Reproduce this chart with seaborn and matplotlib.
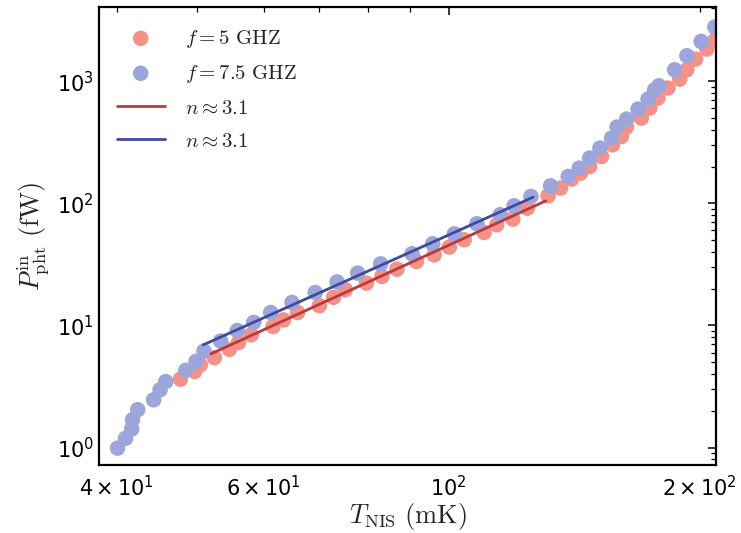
import numpy as np
import pandas as pd
import matplotlib
matplotlib.use("Agg")
import matplotlib.pyplot as plt
import seaborn as sns

# ---- data ----
T_5ghz = [47.7, 49.6, 50.4, 52.4, 54.6, 56.0, 58.0, 61.6, 63.4, 65.9, 70.0, 72.8,
          75.2, 79.7, 83.2, 86.7, 91.5, 96.1, 100.2, 104.4, 110.3, 114.2, 119.4,
          124.3, 131.6, 136.2, 140.4, 143.9, 147.6, 152.5, 157.2, 161.1, 163.4,
          170.2, 174.2, 178.2, 183.2, 189.2, 193.0, 197.7, 204.0, 208.4]
P_5ghz = [3.63, 4.19, 4.76, 5.45, 6.37, 7.24, 8.38, 9.79, 11.1, 12.75, 14.5, 17.0,
          19.6, 22.2, 25.2, 28.9, 33.4, 37.8, 43.8, 50.2, 57.7, 66.7, 74.2,
          91.3, 115.2, 133.2, 157.8, 176.7, 200.2, 241.7, 301.3, 352.4, 421.0,
          499.0, 602.0, 727.0, 878.0, 1040.0, 1240.0, 1517.0, 1832.0, 2154.0]

T_75ghz = [40.1, 41.0, 41.7, 41.8, 42.4, 44.3, 45.1, 45.8, 48.4, 49.8, 50.9, 53.3,
           55.8, 58.4, 61.2, 64.9, 69.2, 73.5, 77.8, 82.9, 90.4, 95.7, 101.6,
           108.1, 115.3, 119.8, 125.5, 132.5, 139.1, 143.4, 147.6, 151.8, 156.8,
           159.2, 163.5, 168.7, 173.4, 176.6, 178.7, 186.6, 193.0, 200.8, 208.5]
P_75ghz = [0.99, 1.19, 1.42, 1.69, 2.04, 2.46, 2.97, 3.47, 4.29, 5.08, 6.17, 7.45,
           9.08, 10.6, 12.75, 15.4, 18.6, 22.7, 26.8, 31.9, 38.6, 46.6, 56.2,
           68.0, 80.5, 95.4, 113.7, 139.1, 165.8, 194.2, 234.5, 283.2, 341.9,
           420.9, 489.4, 591.0, 713.6, 850.6, 917.0, 1240.0, 1615.0, 2114.0, 2774.0]

fit_T_5ghz = [51.9, 130.8]
fit_P_5ghz = [5.85, 104.8]
fit_T_75ghz = [50.8, 126.3]
fit_P_75ghz = [6.93, 112.4]

labels = [r"$f = 5\ \mathrm{GHZ}$", r"$f = 7.5\ \mathrm{GHZ}$",
          r"$n \approx 3.1$", r"$n \approx 3.1$"]

# ---- style ----
sns.set_style("white")
plt.rcParams["font.family"] = ["DejaVu Sans"]
plt.rcParams["mathtext.fontset"] = "cm"

fig = plt.figure(figsize=(7.41, 5.33), dpi=100)
ax = fig.add_axes([0.1336, 0.1276, 0.8327, 0.8593])

c_red_pt = "#F4928A"
c_blue_pt = "#9DA6DB"
c_red_ln = "#B83A3D"
c_blue_ln = "#3F4A9B"

df5 = pd.DataFrame({"T": T_5ghz, "P": P_5ghz})
df75 = pd.DataFrame({"T": T_75ghz, "P": P_75ghz})
fit5 = pd.DataFrame({"T": fit_T_5ghz, "P": fit_P_5ghz})
fit75 = pd.DataFrame({"T": fit_T_75ghz, "P": fit_P_75ghz})

sns.scatterplot(data=df5, x="T", y="P", ax=ax, color=c_red_pt, s=125,
                edgecolor="none", linewidth=0, label=labels[0], zorder=2)
sns.scatterplot(data=df75, x="T", y="P", ax=ax, color=c_blue_pt, s=125,
                edgecolor="none", linewidth=0, label=labels[1], zorder=2.1)
sns.lineplot(data=fit5, x="T", y="P", ax=ax, color=c_red_ln, lw=2.0,
             label=labels[2], zorder=3)
sns.lineplot(data=fit75, x="T", y="P", ax=ax, color=c_blue_ln, lw=2.0,
             label=labels[3], zorder=3)

ax.set_xscale("log")
ax.set_yscale("log")
ax.set_xlim(38.1, 209.2)
ax.set_ylim(0.72, 4050)

for sp in ax.spines.values():
    sp.set_visible(True)
    sp.set_color("black")
    sp.set_linewidth(1.6)

ax.tick_params(which="both", direction="in", top=True, right=True,
               colors="black")
ax.tick_params(which="major", length=6, width=1.1, labelsize=15)
ax.tick_params(which="minor", length=3.5, width=0.9, labelsize=15)
ax.tick_params(axis="x", which="both", pad=7)

ax.set_xlabel(r"$T_{\mathrm{NIS}}\ \mathrm{(mK)}$", fontsize=19, labelpad=1)
ax.set_ylabel(r"$P_{\mathrm{pht}}^{\mathrm{in}}\ \mathrm{(fW)}$", fontsize=19,
              labelpad=4)

leg = ax.legend(loc="upper left", frameon=False, fontsize=15, scatterpoints=1,
                handlelength=2.3, handletextpad=1.0, labelspacing=0.62,
                borderaxespad=0.6, bbox_to_anchor=(-0.005, 1.0))

fig.savefig("out.png", dpi=100)
